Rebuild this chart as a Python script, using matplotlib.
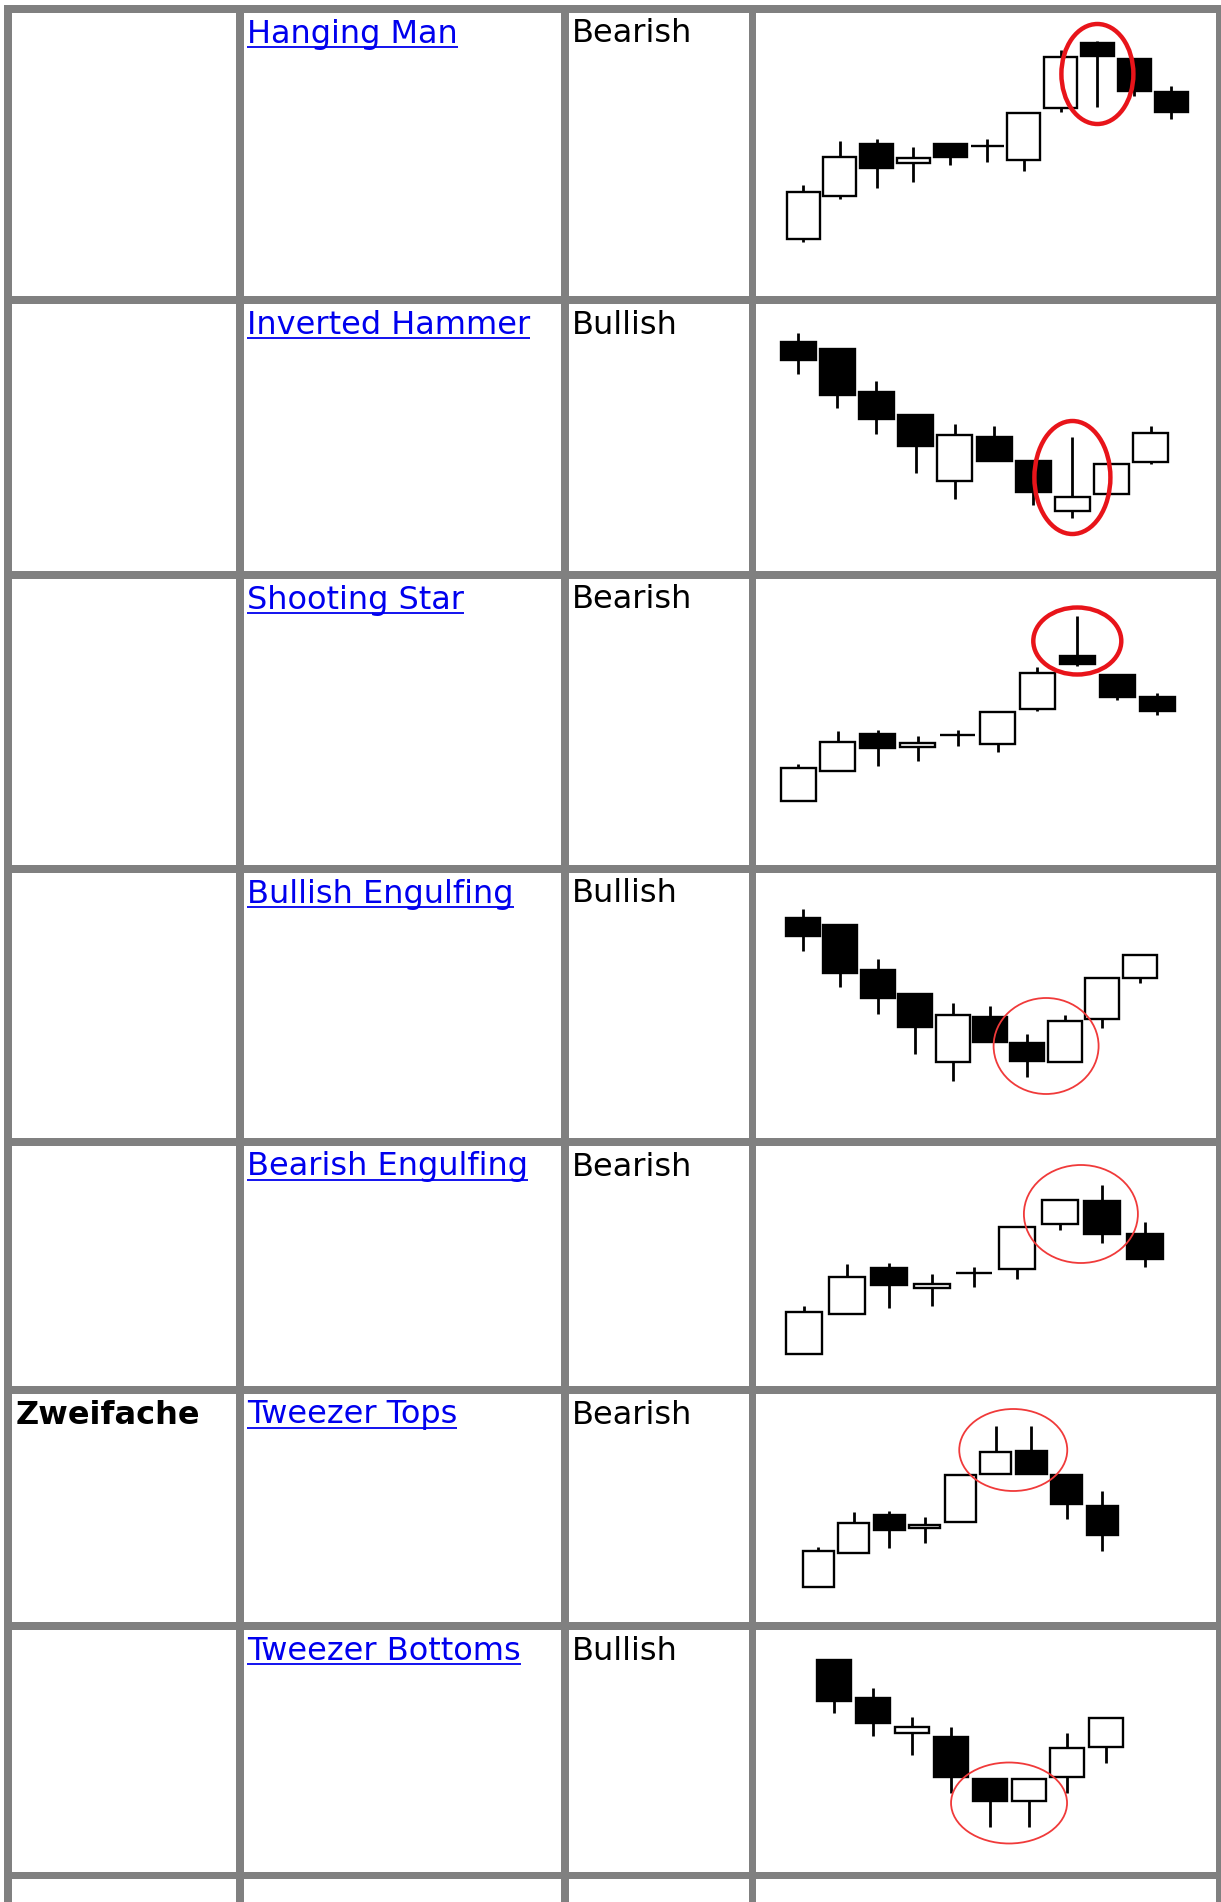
import numpy as np
import matplotlib.pyplot as plt
from matplotlib.patches import Rectangle, Ellipse

# Tabelle mit Kerzenmustern (Screenshot nachgebaut)

W, H = 1221, 1902
GRAY = '#808080'
LINK = '#0000ee'
FS = 23.0  # pt bei dpi=100

groups = ['', '', '', '', '', 'Zweifache', '']
patterns = ['Hanging Man', 'Inverted Hammer', 'Shooting Star', 'Bullish Engulfing',
            'Bearish Engulfing', 'Tweezer Tops', 'Tweezer Bottoms']
signals = ['Bearish', 'Bullish', 'Bearish', 'Bullish', 'Bearish', 'Bearish', 'Bullish']

# Kerzen (open, high, low, close)
hm_o = [57, 100, 152, 133, 152, 150, 136, 188, 253, 237, 204]
hm_h = [111, 155, 157, 149, 152, 157, 183, 246, 255, 237, 210]
hm_l = [54, 97, 108, 114, 131, 134, 125, 184, 189, 200, 177]
hm_c = [104, 139, 128, 138, 139, 150, 183, 239, 240, 205, 184]

ih_o = [229, 222, 179, 156, 90, 134, 110, 60, 77, 109]
ih_h = [238, 222, 190, 156, 147, 145, 110, 134, 108, 145]
ih_l = [197, 163, 137, 98, 72, 110, 66, 53, 77, 107]
ih_c = [211, 176, 152, 125, 136, 110, 79, 74, 107, 138]

ss_o = [64, 94, 131, 118, 130, 121, 156, 209, 190, 168]
ss_h = [101, 134, 135, 129, 135, 153, 198, 249, 190, 172]
ss_l = [64, 94, 99, 104, 119, 113, 154, 199, 165, 150]
ss_c = [97, 123, 117, 122, 130, 153, 192, 201, 168, 154]

bue_o = [220, 213, 168, 144, 76, 121, 95, 76, 119, 160]
bue_h = [229, 213, 179, 144, 135, 132, 104, 123, 160, 183]
bue_l = [187, 151, 124, 84, 57, 96, 61, 76, 110, 155]
bue_c = [202, 165, 140, 111, 123, 96, 77, 117, 160, 183]

bee_o = [32, 72, 118, 98, 113, 117, 162, 185, 152]
bee_h = [80, 122, 123, 112, 119, 159, 186, 201, 164]
bee_l = [32, 72, 78, 80, 99, 107, 156, 143, 119]
bee_c = [74, 109, 101, 102, 113, 159, 186, 152, 127]

tt_o = [35, 69, 107, 94, 100, 148, 171, 147, 116]
tt_h = [75, 110, 111, 105, 147, 196, 196, 147, 131]
tt_l = [35, 69, 74, 79, 100, 148, 148, 103, 71]
tt_c = [71, 99, 92, 97, 147, 170, 148, 118, 87]

tb_o = [212, 174, 139, 135, 93, 71, 95, 125]
tb_h = [212, 184, 155, 145, 93, 93, 139, 154]
tb_l = [159, 136, 117, 79, 45, 45, 79, 109]
tb_c = [171, 149, 145, 95, 71, 93, 124, 154]

# Tabellenraster in Pixeln
col_lines = [(4, 11.5), (236, 243.5), (561, 568.5), (748.5, 756), (1216, 1223)]
row_lines = [(5, 13), (296, 304), (571, 579), (865, 873), (1138, 1146),
             (1386, 1394), (1622, 1630), (1872, 1879)]

fig = plt.figure(figsize=(W / 100, H / 100), dpi=100)
base = fig.add_axes([0, 0, 1, 1])
base.set_xlim(0, W)
base.set_ylim(H, 0)
base.axis('off')

for x0, x1 in col_lines:
    base.add_patch(Rectangle((x0, row_lines[0][0]), x1 - x0, H - row_lines[0][0],
                             facecolor=GRAY, lw=0))
for y0, y1 in row_lines:
    base.add_patch(Rectangle((col_lines[0][0], y0), W - col_lines[0][0], y1 - y0,
                             facecolor=GRAY, lw=0))

renderer = fig.canvas.get_renderer()
for i in range(len(patterns)):
    by = row_lines[i][1] + 29.5
    if groups[i]:
        base.text(15.5, by, groups[i], fontsize=FS, fontweight='bold', va='baseline',
                  family='DejaVu Sans')
    t = base.text(247, by, patterns[i], fontsize=FS, color=LINK, va='baseline',
                  family='DejaVu Sans')
    bb = t.get_window_extent(renderer)
    base.plot([bb.x0, bb.x1], [by + 4.5, by + 4.5], color=LINK, lw=1.3,
              solid_capstyle='butt')
    base.text(572, by, signals[i], fontsize=FS, va='baseline', family='DejaVu Sans')


def draw_chart(row, o, h, l, c, x0, dx, body, mark, ell_w, ell_h, thick):
    y_top = row_lines[row][1]
    y_bot = row_lines[row + 1][0]
    cx0, cx1 = col_lines[3][1], col_lines[4][0]
    ax = fig.add_axes([cx0 / W, 1 - y_bot / H, (cx1 - cx0) / W, (y_bot - y_top) / H])
    ax.set_xlim((cx0 - x0) / dx, (cx1 - x0) / dx)
    ax.set_ylim(0, y_bot - y_top)
    ax.axis('off')
    ax.patch.set_alpha(0)
    o, h, l, c = (np.array(v, dtype=float) for v in (o, h, l, c))
    idx = np.arange(len(o))
    ax.vlines(idx, l, h, color='black', lw=2.0, zorder=1)
    faces = ['white' if cc >= oo else 'black' for oo, cc in zip(o, c)]
    ax.bar(idx, c - o, bottom=o, width=body / dx, color=faces, edgecolor='black',
           linewidth=1.7, zorder=2)
    m = list(mark)
    cx = np.mean(m)
    cy = (h[m].max() + l[m].min()) / 2
    if thick:
        ell = Ellipse((cx, cy), ell_w / dx, ell_h, fill=False, edgecolor='#e8141a',
                      lw=3.2, zorder=3)
    else:
        ell = Ellipse((cx, cy), ell_w / dx, ell_h, fill=False, edgecolor='#f03a3a',
                      lw=1.3, zorder=3)
    ax.add_patch(ell)


draw_chart(0, hm_o, hm_h, hm_l, hm_c, 803, 36.8, 33, [8], 72, 100, True)
draw_chart(1, ih_o, ih_h, ih_l, ih_c, 798, 39.2, 35, [7], 76, 113, True)
draw_chart(2, ss_o, ss_h, ss_l, ss_c, 798, 39.9, 35, [7], 88, 67, True)
draw_chart(3, bue_o, bue_h, bue_l, bue_c, 803, 37.4, 34, [6, 7], 105, 96, False)
draw_chart(4, bee_o, bee_h, bee_l, bee_c, 804, 42.6, 36, [6, 7], 114, 98, False)
draw_chart(5, tt_o, tt_h, tt_l, tt_c, 818, 35.5, 31, [5, 6], 108, 82, False)
draw_chart(6, tb_o, tb_h, tb_l, tb_c, 834, 38.9, 34, [4, 5], 116, 81, False)

fig.savefig('out.png', dpi=100, facecolor='white')
